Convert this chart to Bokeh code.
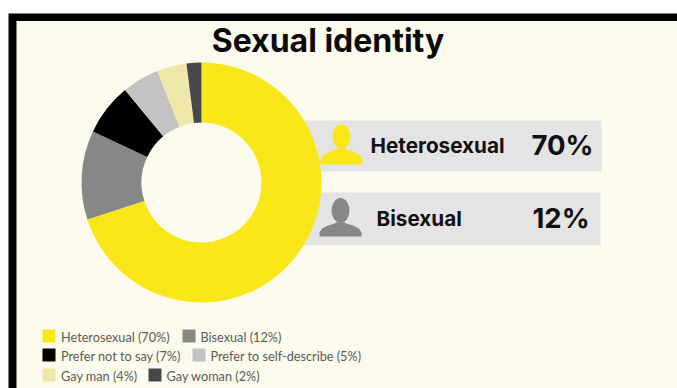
import math
from bokeh.core.properties import value
from bokeh.embed import file_html
from bokeh.models import ColumnDataSource, Range1d
from bokeh.plotting import figure
from bokeh.resources import INLINE

W, H = 677, 388

categories = ["Heterosexual", "Bisexual", "Prefer not to say",
              "Prefer to self-describe", "Gay man", "Gay woman"]
shares = [70, 12, 7, 5, 4, 2]
colors = ["#F9E71A", "#878787", "#000000", "#C3C3C5", "#EFE7A8", "#48484C"]

# Legend layout: left edge of swatch and of label, and top of each row
legend_swatch_x = [42, 182, 42, 192, 42, 148]
legend_text_x = [60.5, 200, 60.5, 210, 60.5, 166]
legend_row_y = [329, 329, 348, 348, 368, 368]

callouts = ["Heterosexual", "Bisexual"]
callout_shares = [70, 12]
callout_colors = ["#F9E71A", "#878787"]
callout_text_x = [370, 376]
callout_pct_x = [531, 532]
callout_top = [120, 192]
callout_bottom = [171, 245]
callout_right = [601, 600]
icon_cx = [341, 340]
icon_head_y = [136, 210]
icon_head_h = [24, 25]
icon_body_top = [148, 222]
icon_body_bottom = [164, 236]

FONT_HEAD = value("Inter")
FONT_BODY = value("Lato")


def fy(y):
    """Convert a distance from the top of the page to the upward y axis."""
    return H - y


p = figure(width=W, height=H, output_backend="svg", toolbar_location=None,
           x_range=Range1d(0, W), y_range=Range1d(0, H),
           min_border=0, x_axis_type=None, y_axis_type=None,
           background_fill_color="#FFFFFF", border_fill_color="#FFFFFF",
           outline_line_color=None)
p.grid.visible = False

# Black frame and cream panel
p.quad(left=[8], right=[W], top=[fy(13)], bottom=[0], color="#000000", line_color=None)
p.quad(left=[16], right=[W], top=[fy(20.5)], bottom=[0], color="#FDFBEE", line_color=None)

# Call-out bars sit behind the donut
p.quad(left=[300, 300], right=callout_right,
       top=[fy(t) for t in callout_top], bottom=[fy(b) for b in callout_bottom],
       color="#E4E4E4", line_color=None)

# Donut, clockwise from twelve o'clock
total = sum(shares)
starts, ends = [], []
running = 0
for s in shares:
    starts.append(math.pi / 2 - 2 * math.pi * running / total)
    running += s
    ends.append(math.pi / 2 - 2 * math.pi * running / total)
donut = ColumnDataSource(dict(start=ends, end=starts, color=colors))
p.annular_wedge(x=201, y=fy(182), inner_radius=60, outer_radius=120,
                start_angle="start", end_angle="end", color="color",
                line_color=None, source=donut)

# Person icons beside each call-out
shoulder = [(-1, 1), (-1, 0.72), (-0.88, 0.42), (-0.6, 0.22), (-0.28, 0.08), (-0.2, 0),
            (0.2, 0), (0.28, 0.08), (0.6, 0.22), (0.88, 0.42), (1, 0.72), (1, 1)]
for cx, hy, hh, bt, bb, col in zip(icon_cx, icon_head_y, icon_head_h,
                                   icon_body_top, icon_body_bottom, callout_colors):
    p.ellipse(x=[cx], y=[fy(hy)], width=18, height=hh, color=col, line_color=None)
    p.patch([cx + 21 * u for u, _ in shoulder],
            [fy(bt + (bb - bt) * v) for _, v in shoulder],
            color=col, line_color=None)

# Call-out texts
p.text(x=callout_text_x, y=[fy((t + b) / 2 - 1) for t, b in zip(callout_top, callout_bottom)],
       text=callouts, text_font=FONT_HEAD, text_font_style="bold",
       text_font_size="20.7px", text_color="#111111", text_baseline="middle")
p.text(x=callout_pct_x, y=[fy((t + b) / 2 - 1) for t, b in zip(callout_top, callout_bottom)],
       text=[f"{s}%" for s in callout_shares], text_font=FONT_HEAD, text_font_style="bold",
       text_font_size="27.5px", text_color="#111111", text_baseline="middle")

# Title
p.text(x=[327.5], y=[fy(40)], text=["Sexual identity"], text_font=FONT_HEAD,
       text_font_style="bold", text_font_size="32px", text_color="#0A0A0A",
       text_align="center", text_baseline="middle")

# Legend
p.quad(left=legend_swatch_x, right=[x + 13 for x in legend_swatch_x],
       top=[fy(y) for y in legend_row_y], bottom=[fy(y + 13) for y in legend_row_y],
       color=colors, line_color=None)
p.text(x=legend_text_x, y=[fy(y + 7) for y in legend_row_y],
       text=[f"{c} ({s}%)" for c, s in zip(categories, shares)],
       text_font=FONT_BODY, text_font_size="12.7px", text_color="#5A5A5A",
       text_baseline="middle")

open("out.html", "w").write(file_html(p, INLINE))
